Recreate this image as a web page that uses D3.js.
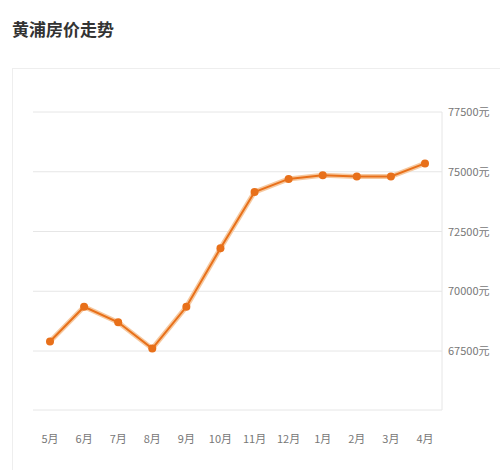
<!DOCTYPE html><html><head><meta charset="utf-8"><script src="https://cdn.jsdelivr.net/npm/d3@7"></script>
<style>body{margin:0;background:#fff}</style></head><body><svg id="c" width="500" height="470"></svg><script>
const months=["5月","6月","7月","8月","9月","10月","11月","12月","1月","2月","3月","4月"];
const prices=[67900,69350,68700,67600,69350,71800,74150,74700,74850,74800,74800,75350];
const yTicks=[67500,70000,72500,75000,77500];
const svg=d3.select("#c");
const font="'Noto Sans CJK SC',sans-serif";
svg.append("text").attr("x",12).attr("y",36).text("黄浦房价走势").attr("font-family",font).attr("font-weight","bold").attr("font-size",17).attr("fill","#333");
svg.append("rect").attr("x",12.5).attr("y",68.5).attr("width",500).attr("height",420).attr("fill","none").attr("stroke","#eee");
const x=d3.scalePoint().domain(months).range([50,425]);
const y=d3.scaleLinear().domain([67500,77500]).range([351,112]);
svg.append("g").selectAll("line").data(yTicks).join("line").attr("x1",33).attr("x2",442).attr("y1",d=>y(d)).attr("y2",d=>y(d)).attr("stroke","#e6e6e6");
svg.append("line").attr("x1",33).attr("x2",442).attr("y1",410).attr("y2",410).attr("stroke","#e6e6e6");
svg.append("line").attr("x1",442).attr("x2",442).attr("y1",112).attr("y2",410).attr("stroke","#e6e6e6");
svg.append("g").selectAll("text").data(yTicks).join("text").attr("x",448).attr("y",d=>y(d)+4).text(d=>d+"元").attr("font-family",font).attr("font-size",11).attr("fill","#777");
svg.append("g").selectAll("text").data(months).join("text").attr("x",d=>x(d)).attr("y",443).attr("text-anchor","middle").text(d=>d).attr("font-family",font).attr("font-size",11).attr("fill","#777");
const line=d3.line().x((d,i)=>x(months[i])).y(d=>y(d));
svg.append("path").datum(prices).attr("d",line).attr("fill","none").attr("stroke","#f6c9a0").attr("stroke-width",5);
svg.append("path").datum(prices).attr("d",line).attr("fill","none").attr("stroke","#e8701a").attr("stroke-width",2);
svg.append("g").selectAll("circle").data(prices).join("circle").attr("cx",(d,i)=>x(months[i])).attr("cy",d=>y(d)).attr("r",4).attr("fill","#e8701a");
</script></body></html>
